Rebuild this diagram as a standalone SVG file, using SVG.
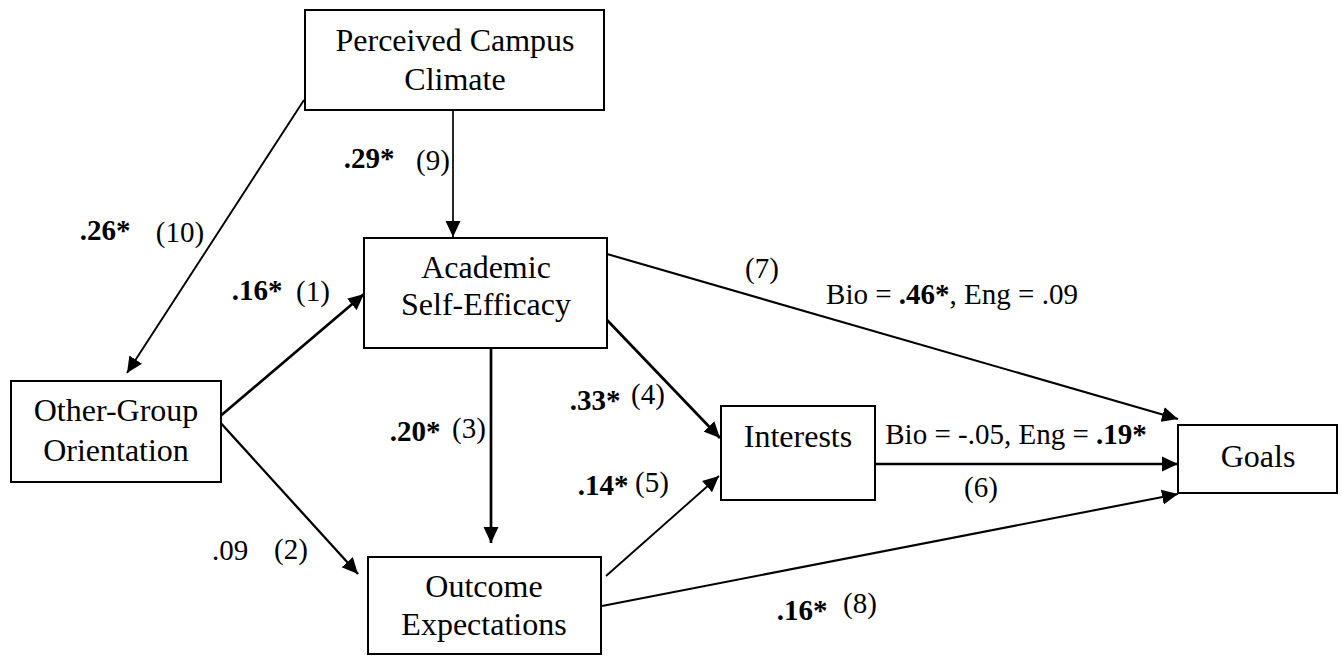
<svg xmlns="http://www.w3.org/2000/svg" width="1342" height="656" viewBox="0 0 1342 656">
<defs>
<style>
.box{fill:#fff;stroke:#000;stroke-width:2}
.nt{font-family:"Liberation Serif","Times New Roman",serif;font-size:32px;fill:#000;text-anchor:middle}
.lb{font-family:"Liberation Serif","Times New Roman",serif;font-size:29px;fill:#000;text-anchor:middle}
.b{font-weight:bold}
.c{stroke:#000;fill:none}
</style>
<marker id="ah" markerWidth="16" markerHeight="16" refX="16" refY="8" orient="auto" markerUnits="userSpaceOnUse"><path d="M0,0.5 L16,8 L0,15.5 z" fill="#000"/></marker>
</defs>
<rect width="1342" height="656" fill="#fff"/>
<g id="connectors">
<line class="c" x1="453" y1="111" x2="453" y2="237" stroke-width="1.7" marker-end="url(#ah)"/>
<line class="c" x1="304" y1="100" x2="127" y2="373" stroke-width="1.9" marker-end="url(#ah)"/>
<line class="c" x1="218" y1="418" x2="364" y2="294" stroke-width="2.7" marker-end="url(#ah)"/>
<line class="c" x1="218" y1="420" x2="358" y2="574" stroke-width="2.3" marker-end="url(#ah)"/>
<line class="c" x1="491" y1="348" x2="491" y2="543" stroke-width="2.7" marker-end="url(#ah)"/>
<line class="c" x1="607" y1="320" x2="720" y2="438" stroke-width="2.7" marker-end="url(#ah)"/>
<line class="c" x1="606" y1="576" x2="719" y2="476" stroke-width="1.9" marker-end="url(#ah)"/>
<line class="c" x1="607" y1="254" x2="1178" y2="419" stroke-width="2.1" marker-end="url(#ah)"/>
<line class="c" x1="875" y1="464" x2="1178" y2="464" stroke-width="2.3" marker-end="url(#ah)"/>
<line class="c" x1="602" y1="606" x2="1178" y2="494" stroke-width="2.1" marker-end="url(#ah)"/>
</g>
<g id="labels">
<text class="lb b" x="369" y="168">.29*</text>
<text class="lb" x="433" y="170">(9)</text>
<text class="lb b" x="105" y="240">.26*</text>
<text class="lb" x="180" y="242">(10)</text>
<text class="lb b" x="257" y="300">.16*</text>
<text class="lb" x="313" y="301">(1)</text>
<text class="lb b" x="415" y="441">.20*</text>
<text class="lb" x="469" y="438">(3)</text>
<text class="lb b" x="595" y="410">.33*</text>
<text class="lb" x="648" y="404">(4)</text>
<text class="lb b" x="603" y="495">.14*</text>
<text class="lb" x="652" y="492">(5)</text>
<text class="lb" x="230" y="560">.09</text>
<text class="lb" x="291" y="559">(2)</text>
<text class="lb" x="762" y="278">(7)</text>
<text class="lb" x="952" y="304">Bio = <tspan class="b">.46*</tspan>, Eng = .09</text>
<text class="lb" x="1016" y="444">Bio = -.05, Eng = <tspan class="b">.19*</tspan></text>
<text class="lb" x="981" y="497">(6)</text>
<text class="lb b" x="802" y="620">.16*</text>
<text class="lb" x="860" y="613">(8)</text>
</g>
<g id="node-pcc">
<rect class="box" x="305" y="10" width="299" height="100"/>
<text class="nt" x="455" y="51">Perceived Campus</text>
<text class="nt" x="455" y="90">Climate</text>
</g>
<g id="node-ase">
<rect class="box" x="364" y="238" width="243" height="110"/>
<text class="nt" x="486" y="278">Academic</text>
<text class="nt" x="486" y="315">Self-Efficacy</text>
</g>
<g id="node-ogo">
<rect class="box" x="11" y="381" width="210" height="101"/>
<text class="nt" x="116" y="421">Other-Group</text>
<text class="nt" x="116" y="461">Orientation</text>
</g>
<g id="node-oe">
<rect class="box" x="368" y="557" width="233" height="97"/>
<text class="nt" x="484" y="597">Outcome</text>
<text class="nt" x="484" y="635">Expectations</text>
</g>
<g id="node-int">
<rect class="box" x="721" y="406" width="154" height="94"/>
<text class="nt" x="798" y="447">Interests</text>
</g>
<g id="node-goals">
<rect class="box" x="1178" y="425" width="159" height="68"/>
<text class="nt" x="1258" y="467">Goals</text>
</g>
</svg>
